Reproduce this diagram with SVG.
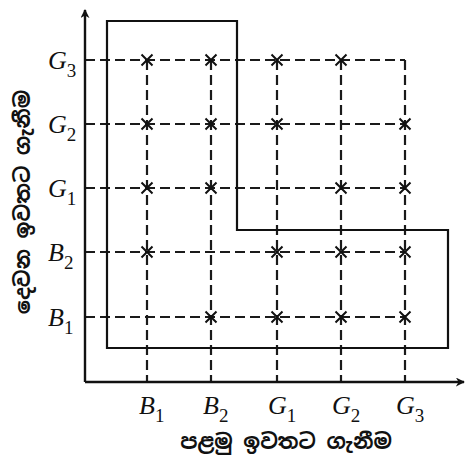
<svg xmlns="http://www.w3.org/2000/svg" width="469" height="458" viewBox="0 0 469 458">
<style>
.axis{stroke:#111;stroke-width:2.4;fill:none}
.grid{stroke:#1a1a1a;stroke-width:2.2;stroke-dasharray:10,5;fill:none}
.region{stroke:#111;stroke-width:2.2;fill:none}
.x{stroke:#111;stroke-width:2;fill:none}
.lbl{font-family:"Liberation Serif","DejaVu Serif",serif;font-style:italic;font-size:26px;fill:#111}
.sub{font-size:19px;font-style:normal}
.si{font-family:"Noto Sans Sinhala","Noto Serif Sinhala","Noto Sans",sans-serif;font-size:21px;font-weight:bold;fill:#111}
</style>
<defs>
<marker id="ah" viewBox="0 0 10 10" refX="9" refY="5" markerWidth="9" markerHeight="9" markerUnits="userSpaceOnUse" orient="auto">
<path d="M0,0 L10,5 L0,10 L3,5 Z" fill="#111"/>
</marker>
<path id="cr" d="M-5.5,-5.5 L5.5,5.5 M-5.5,5.5 L5.5,-5.5" class="x"/>
</defs>
<g id="connectors">
<path class="grid" d="M85,60 H405 M85,124 H405 M85,188 H405 M85,252 H405 M85,317 H405"/>
<path class="grid" d="M147,60 V382 M211,60 V382 M277,60 V382 M341,60 V382 M405,60 V382"/>
<line class="axis" x1="85" y1="382" x2="85" y2="10" marker-end="url(#ah)"/>
<line class="axis" x1="85" y1="382" x2="464" y2="382" marker-end="url(#ah)"/>
</g>
<g id="region">
<path class="region" d="M107,21 H237 V230 H448 V348 H107 Z"/>
</g>
<g id="marks">
<use href="#cr" x="147" y="60"/><use href="#cr" x="211" y="60"/><use href="#cr" x="277" y="60"/><use href="#cr" x="341" y="60"/>
<use href="#cr" x="147" y="124"/><use href="#cr" x="211" y="124"/><use href="#cr" x="277" y="124"/><use href="#cr" x="405" y="124"/>
<use href="#cr" x="147" y="188"/><use href="#cr" x="211" y="188"/><use href="#cr" x="341" y="188"/><use href="#cr" x="405" y="188"/>
<use href="#cr" x="147" y="252"/><use href="#cr" x="277" y="252"/><use href="#cr" x="341" y="252"/><use href="#cr" x="405" y="252"/>
<use href="#cr" x="211" y="317"/><use href="#cr" x="277" y="317"/><use href="#cr" x="341" y="317"/><use href="#cr" x="405" y="317"/>
</g>
<g id="ylabels">
<text class="lbl" x="48" y="69">G<tspan class="sub" dy="8">3</tspan></text>
<text class="lbl" x="48" y="133">G<tspan class="sub" dy="8">2</tspan></text>
<text class="lbl" x="48" y="197">G<tspan class="sub" dy="8">1</tspan></text>
<text class="lbl" x="48" y="261">B<tspan class="sub" dy="8">2</tspan></text>
<text class="lbl" x="48" y="326">B<tspan class="sub" dy="8">1</tspan></text>
</g>
<g id="xlabels">
<text class="lbl" x="139" y="414">B<tspan class="sub" dy="8">1</tspan></text>
<text class="lbl" x="203" y="414">B<tspan class="sub" dy="8">2</tspan></text>
<text class="lbl" x="268" y="414">G<tspan class="sub" dy="8">1</tspan></text>
<text class="lbl" x="332" y="414">G<tspan class="sub" dy="8">2</tspan></text>
<text class="lbl" x="396" y="414">G<tspan class="sub" dy="8">3</tspan></text>
</g>
<g id="axis-titles">
<text class="si" x="286" y="449" text-anchor="middle">පළමු ඉවතට ගැනීම</text>
<text class="si" transform="translate(30,202) rotate(-90)" text-anchor="middle">දෙවන ඉවතට ගැනීම</text>
</g>
</svg>
